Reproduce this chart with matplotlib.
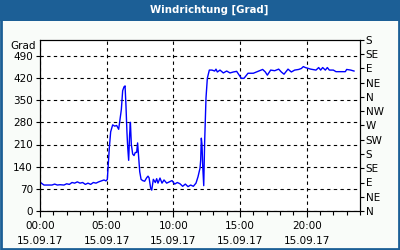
import matplotlib
matplotlib.use("Agg")
import matplotlib.pyplot as plt
from matplotlib.patches import Rectangle
from matplotlib.ticker import MultipleLocator

# Stunden seit 00:00 und Windrichtung in Grad
hours = [0.0, 0.1, 0.3, 0.6, 0.9, 1.1, 1.3, 1.5, 1.8, 2.0, 2.2, 2.4, 2.6, 2.8, 3.0,
         3.2, 3.4, 3.6, 3.8, 4.0, 4.2, 4.4, 4.6, 4.8, 4.95, 5.05, 5.2, 5.3, 5.45, 5.6,
         5.75, 5.9, 6.0, 6.1, 6.2, 6.3, 6.38, 6.45, 6.52, 6.58, 6.65, 6.72, 6.78, 6.85,
         6.95, 7.05, 7.15, 7.25, 7.32, 7.4, 7.48, 7.58, 7.7, 7.85, 8.0, 8.1, 8.18, 8.3,
         8.38, 8.5, 8.65, 8.75, 8.85, 9.0, 9.15, 9.3, 9.5, 9.7, 9.9, 10.1, 10.3, 10.5,
         10.7, 10.9, 11.1, 11.3, 11.5, 11.7, 11.85, 12.0, 12.05, 12.1, 12.15, 12.2,
         12.28, 12.35, 12.45, 12.55, 12.7, 12.9, 13.1, 13.2, 13.3, 13.5, 13.75, 14.0,
         14.25, 14.5, 14.75, 15.1, 15.3, 15.6, 16.0, 16.4, 16.7, 16.9, 17.05, 17.3,
         17.6, 17.9, 18.1, 18.3, 18.6, 18.85, 19.1, 19.4, 19.6, 19.75, 19.9, 20.3,
         20.7, 20.9, 21.05, 21.2, 21.4, 21.55, 21.7, 22.0, 22.2, 22.5, 22.9, 23.0,
         23.3, 23.55]
grad = [92, 88, 82, 82, 82, 85, 82, 83, 82, 86, 84, 90, 88, 92, 88,
        90, 84, 88, 84, 90, 88, 92, 95, 98, 95, 100, 200, 250, 272, 268,
        270, 258, 290, 320, 380, 392, 395, 330, 250, 200, 160, 240, 280, 210,
        180, 175, 185, 185, 215, 170, 124, 100, 96, 94, 105, 110, 105, 72,
        66, 100, 90, 102, 88, 104, 88, 98, 88, 92, 96, 85, 90, 86,
        78, 85, 77, 82, 78, 88, 108, 135, 160, 230, 210, 145,
        80, 220, 357, 419, 445, 445, 442, 448, 439, 445, 436, 442,
        436, 439, 441, 419, 419, 435, 435, 442, 447, 439, 429, 445,
        443, 448, 439, 432, 448, 439, 445, 447, 450, 456, 453, 448,
        445, 453, 445, 453, 445, 453, 445, 445, 440, 440, 440, 447,
        445, 442]

x_ticks = [0, 5, 10, 15, 20]
x_labels = ["00:00\n15.09.17", "05:00\n15.09.17", "10:00\n15.09.17",
            "15:00\n15.09.17", "20:00\n15.09.17"]
y_ticks = [0, 70, 140, 210, 280, 350, 420, 490]
dir_ticks = [0, 45, 90, 135, 180, 225, 270, 315, 360, 405, 450, 495, 540]
dir_labels = ["N", "NE", "E", "SE", "S", "SW", "W", "NW", "N", "NE", "E", "SE", "S"]

blue = "#1c5f96"
fs = 7.5

fig = plt.figure(figsize=(4, 2.5), dpi=100, facecolor="#f9fcf9")

# Titelleiste und Rahmen
fig.patches.append(Rectangle((0, 0.918), 1, 0.082, transform=fig.transFigure,
                             facecolor=blue, edgecolor="none", zorder=0))
fig.patches.append(Rectangle((0.003, 0.005), 0.994, 0.99, transform=fig.transFigure,
                             facecolor="none", edgecolor=blue, linewidth=2.0, zorder=0))
fig.text(0.524, 0.96, "Windrichtung [Grad]", color="white", fontsize=7.3,
         fontweight="bold", ha="center", va="center")

ax = fig.add_axes([0.1, 0.156, 0.8, 0.684])
ax.plot(hours, grad, color="#0000ff", linewidth=1.0)
ax.set_xlim(0, 24)
ax.set_ylim(0, 540)
ax.set_facecolor("white")

ax.set_xticks(x_ticks)
ax.set_xticklabels(x_labels, fontsize=fs, linespacing=1.6)
ax.xaxis.set_minor_locator(MultipleLocator(1))
ax.set_yticks(y_ticks)
ax.set_yticklabels([str(v) for v in y_ticks], fontsize=fs)
ax.tick_params(axis="x", which="major", length=4, width=0.8, pad=3)
ax.tick_params(axis="x", which="minor", length=3, width=0.8)
ax.tick_params(axis="y", length=3, width=0.8, pad=2)
ax.grid(True, color="black", linestyle=(0, (3, 3)), linewidth=0.8)
for s in ax.spines.values():
    s.set_linewidth(0.8)

ax2 = ax.twinx()
ax2.set_ylim(0, 540)
ax2.set_yticks(dir_ticks)
ax2.set_yticklabels(dir_labels, fontsize=fs)
ax2.tick_params(axis="y", length=3, width=0.8, pad=1)

fig.text(0.09, 0.816, "Grad", fontsize=fs, ha="right", va="center")

fig.savefig("out.png", dpi=100, facecolor=fig.get_facecolor())
